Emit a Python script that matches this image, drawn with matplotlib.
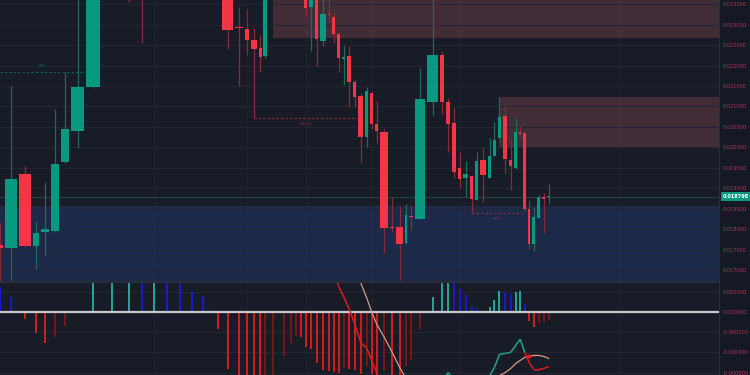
import numpy as np
import matplotlib.pyplot as plt
from matplotlib.patches import Rectangle
from matplotlib.collections import LineCollection
from matplotlib.lines import Line2D
from matplotlib.ticker import FormatStrFormatter

# candles (equivolume: width of a candle = its volume)
volume = [7.5, 14, 14, 8, 10, 10, 10, 15, 16, 21,
          13, 13, 11, 16, 9, 15, 8, 7, 7, 13,
          10, 6, 7.5, 4.8, 5.7, 10, 11, 4, 5, 5,
          5, 6, 5, 8, 4, 5, 5, 5, 6, 5,
          7, 5, 5, 5, 10, 6, 9, 4, 6, 12,
          13, 6, 6, 6, 5, 7, 5, 5, 8, 5,
          4.5, 5.5, 6, 5, 5, 4, 5, 4, 5, 5,
          5, 5]
open_ = [0.017615, 0.017541, 0.019351, 0.017590, 0.017933, 0.017957, 0.019644, 0.020402, 0.021478, 0.02470,
         0.02560, 0.02470, 0.02410, 0.02520, 0.02460, 0.02430, 0.02480, 0.02420, 0.02400, 0.02385,
         0.022933, 0.022896, 0.022627, 0.022431, 0.022236, 0.02375, 0.02430, 0.02390, 0.02410, 0.02385,
         0.02372, 0.023434, 0.02370, 0.022603, 0.023250, 0.023189, 0.022774, 0.022162, 0.022236, 0.021600,
         0.021258, 0.020255, 0.021331, 0.020573, 0.020378, 0.018043, 0.018055, 0.017664, 0.018311, 0.018250,
         0.021111, 0.022260, 0.021111, 0.020598, 0.019497, 0.019253, 0.019302, 0.018715, 0.019693, 0.019253,
         0.019791, 0.020231, 0.020769, 0.019693, 0.019497, 0.020353, 0.020353, 0.018495, 0.017639, 0.018274,
         0.018764, 0.018776]
close = [0.017541, 0.019228, 0.017590, 0.017908, 0.018006, 0.019595, 0.020451, 0.021478, 0.02470, 0.02560,
         0.02470, 0.02410, 0.02520, 0.02460, 0.02430, 0.02480, 0.02420, 0.02400, 0.02385, 0.022872,
         0.022908, 0.022627, 0.022407, 0.022211, 0.02375, 0.02430, 0.02390, 0.02410, 0.02385, 0.02372,
         0.023409, 0.02370, 0.022651, 0.023263, 0.023226, 0.022774, 0.022187, 0.022211, 0.021600, 0.021233,
         0.020255, 0.021380, 0.020573, 0.020402, 0.018030, 0.018018, 0.017639, 0.018348, 0.018287, 0.021184,
         0.022260, 0.021111, 0.020573, 0.019400, 0.019228, 0.019351, 0.018740, 0.019669, 0.019326, 0.019791,
         0.020182, 0.020744, 0.019717, 0.019546, 0.020378, 0.020329, 0.018495, 0.017639, 0.018299, 0.018788,
         0.018740, 0.018798]
high = [0.018153, 0.021502, 0.019546, 0.018201, 0.019155, 0.020940, 0.021845, 0.02400, 0.02510, 0.02590,
        0.02610, 0.02490, 0.02540, 0.02580, 0.02480, 0.02510, 0.02500, 0.02430, 0.02420, 0.02400,
        0.023434, 0.023385, 0.022920, 0.022749, 0.02390, 0.02450, 0.02460, 0.02420, 0.02420, 0.02395,
        0.02385, 0.02380, 0.02380, 0.02366, 0.02370, 0.023312, 0.022800, 0.022505, 0.022480, 0.021649,
        0.021331, 0.021478, 0.021350, 0.021135, 0.020451, 0.018788, 0.018568, 0.018617, 0.018593, 0.021942,
        0.02400, 0.022358, 0.021209, 0.020965, 0.019889, 0.019669, 0.019310, 0.019889, 0.020011, 0.020231,
        0.020622, 0.021233, 0.021013, 0.020231, 0.020720, 0.020524, 0.020360, 0.018715, 0.018544, 0.018840,
        0.018886, 0.019106]
low = [0.01670, 0.01670, 0.017566, 0.017028, 0.017346, 0.017933, 0.019620, 0.019986, 0.021450, 0.02460,
       0.02356, 0.022554, 0.02380, 0.02440, 0.02400, 0.02390, 0.02380, 0.02370, 0.02365, 0.022407,
       0.021502, 0.022260, 0.020720, 0.021845, 0.022187, 0.02365, 0.02370, 0.02375, 0.02370, 0.02365,
       0.023189, 0.022358, 0.021991, 0.022480, 0.023050, 0.022554, 0.021845, 0.021527, 0.020989, 0.020989,
       0.019620, 0.020011, 0.020450, 0.020109, 0.017419, 0.017933, 0.016759, 0.017639, 0.017982, 0.018240,
       0.020793, 0.020818, 0.019889, 0.019253, 0.019008, 0.018788, 0.018397, 0.018710, 0.018666, 0.019250,
       0.019780, 0.020220, 0.019375, 0.018960, 0.019480, 0.020250, 0.018450, 0.017517, 0.017468, 0.018260,
       0.017908, 0.018617]

# MACD pane
hist = [0.00025, 0.00015, -0.00007, -0.00021, -0.00031, -0.00025, -0.00014, 0.0, 0.00045, 0.0006,
        0.0007, 0.00065, 0.0007, 0.0006, 0.0004, 0.00021, 0.00016, 0.00002, -0.00017, -0.00056,
        -0.0007, -0.0008, -0.00085, -0.0009, -0.00085, -0.00075, -0.00044, -0.00031, -0.00024, -0.00025,
        -0.00035, -0.00037, -0.00051, -0.00057, -0.00058, -0.00059, -0.0006, -0.00055, -0.00056, -0.00057,
        -0.00061, -0.00053, -0.00061, -0.0007, -0.00058, -0.00063, -0.0007, -0.00053, -0.00048, -0.00017,
        0.00015, 0.00029, 0.00033, 0.00031, 0.00023, 0.00017, 0.00006, 0.00004, 0.00001, 0.00005,
        0.00012, 0.00021, 0.0002, 0.00018, 0.0002, 0.00021, 0.00008, -0.00009, -0.00015, -0.00011,
        -0.0001, -0.00008]
macd = [0.00125, 0.00113, 0.0009, 0.00074, 0.00061, 0.00063, 0.00072, 0.00085, 0.00133, 0.00155,
        0.00175, 0.0018, 0.00195, 0.00195, 0.00182, 0.00167, 0.00164, 0.0015, 0.00133, 0.00094,
        0.0008, 0.00068, 0.0006, 0.00052, 0.00053, 0.00058, 0.00083, 0.0009, 0.00091, 0.00084,
        0.00075, 0.0007, 0.00058, 0.0005, 0.00046, 0.0004, 0.00025, 0.00015, 0.00003, -0.00012,
        -0.0003, -0.00036, -0.00048, -0.0006, -0.0008, -0.0009, -0.001, -0.001, -0.00098, -0.0008,
        -0.0007, -0.00068, -0.0006, -0.00068, -0.00072, -0.00075, -0.00078, -0.00075, -0.0007, -0.00063,
        -0.00055, -0.00042, -0.00041, -0.0004, -0.00033, -0.00027, -0.0004, -0.0005, -0.00057, -0.00057,
        -0.00056, -0.00054]
signal = [0.0010, 0.00098, 0.00097, 0.00095, 0.00092, 0.00088, 0.00086, 0.00085, 0.00088, 0.00095,
          0.00105, 0.00115, 0.00125, 0.00135, 0.00142, 0.00146, 0.00148, 0.0015, 0.0015, 0.0015,
          0.0015, 0.00148, 0.00145, 0.00142, 0.00138, 0.00134, 0.0013, 0.00126, 0.00122, 0.00118,
          0.00114, 0.00109, 0.00104, 0.00099, 0.00094, 0.00088, 0.0008, 0.0007, 0.00058, 0.00045,
          0.00029, 0.00014, 0.0, -0.00012, -0.00025, -0.0004, -0.00055, -0.00066, -0.00072, -0.00074,
          -0.00075, -0.00074, -0.00073, -0.00072, -0.00072, -0.00072, -0.00072, -0.00071, -0.0007, -0.00068,
          -0.00066, -0.00063, -0.0006, -0.00056, -0.00051, -0.00048, -0.00045, -0.00044, -0.00043, -0.00043,
          -0.00044, -0.00046]

# order blocks (start candle, low, high)
zone_start = [25, 61, 0]
zone_low = [0.02270, 0.020011, 0.0165]
zone_high = [0.0245, 0.021233, 0.018568]
zone_kind = ['supply', 'supply', 'demand']

# structure lines
level_start = [0, 22, 56]
level_end = [8, 40, 66]
level_price = [0.021845, 0.020720, 0.018397]
level_text = ['BOS', 'CHoCH', 'BOS']
level_bull = [True, False, False]

price_ticks = np.arange(0.0170, 0.02351, 0.0005)
macd_ticks = [0.0002, 0.0, -0.0002, -0.0004, -0.0006]

o = np.array(open_); c = np.array(close)
hi = np.array(high); lo = np.array(low)
vol = np.array(volume)
lefts = np.concatenate([[0], np.cumsum(vol)[:-1]])
mids = lefts + vol / 2
gap = 1.6
up = c >= o

BG = '#181c27'
GREEN = '#089981'
RED = '#f23645'

fig = plt.figure(figsize=(7.5, 3.75), dpi=100, facecolor='#151924')
ax = fig.add_axes([0, 94 / 375, 719 / 750, 281 / 375])
ax2 = fig.add_axes([0, 0, 719 / 750, 92 / 375])
x0 = 3.3
vgrid = list(mids[[12, 21, 30, 42, 54]]) + [x0 + 619]
for a in (ax, ax2):
    a.set_facecolor(BG)
    a.set_xlim(x0, x0 + 719)
    a.set_xticks([])
    for s in ('top', 'left', 'bottom'):
        a.spines[s].set_visible(False)
    a.spines['right'].set_color('#2a2e39')
    a.spines['right'].set_linewidth(0.8)
    a.yaxis.tick_right()
    a.tick_params(axis='y', length=0, pad=2.5, labelsize=3.6, labelcolor='#b8345c')
    a.yaxis.set_major_formatter(FormatStrFormatter('%.6f'))
    a.grid(axis='y', color='#232735', lw=0.7, zorder=0)
    for xv in vgrid:
        a.axvline(xv, color='#1f2330', lw=0.7, zorder=0)

ax.set_ylim(0.016731, 0.023605)
ax.set_yticks(price_ticks)
ax2.set_ylim(-0.000624, 0.000287)
ax2.set_yticks(macd_ticks)

# zones
for s, zl, zh, k in zip(zone_start, zone_low, zone_high, zone_kind):
    fc = '#904d55' if k == 'supply' else '#26448b'
    ec = '#7a4550' if k == 'supply' else '#2a3d6e'
    ax.add_patch(Rectangle((mids[s], zl), x0 + 719 - mids[s], zh - zl,
                           facecolor=fc, alpha=0.35, edgecolor=ec, lw=0.6, zorder=1))

# last price line
ax.axhline(c[-1], color='#1b4b43', lw=0.7, zorder=1.5)

# candles
ax.vlines(mids, lo, hi, colors=np.where(up, '#1e6a5a', '#8a2a36'), lw=0.9, zorder=2)
ax.bar(lefts + gap / 2, np.maximum(np.abs(c - o), 3.5e-5), bottom=np.minimum(o, c),
       width=vol - gap, align='edge', color=np.where(up, GREEN, RED), lw=0, zorder=3)

# structure lines
for s, e, p, t, b in zip(level_start, level_end, level_price, level_text, level_bull):
    col = '#0e6b58' if b else '#9a2a3a'
    xa = mids[s] if s > 0 else x0
    ax.plot([xa, lefts[e]], [p, p], color=col, lw=0.8, ls=(0, (2, 2)), zorder=2.5)
    ax.annotate(t, xy=((xa + lefts[e]) / 2, p), xytext=(0, 3 if b else -3),
                textcoords='offset points', ha='center', va='bottom' if b else 'top',
                fontsize=2.5, color=col)

ax.annotate(f'{c[-1]:.6f}', xy=(1.0, c[-1]), xycoords=('axes fraction', 'data'),
            xytext=(2.5, 0), textcoords='offset points', ha='left', va='center',
            fontsize=3.6, color='white', fontweight='bold',
            bbox=dict(boxstyle='square,pad=0.35', fc=GREEN, ec='none'))

# histogram
h = np.array(hist)
prev = np.concatenate([[h[0]], h[:-1]])
hcol = np.where(h >= 0, np.where(h > prev, '#26a69a', '#1a1ad0'),
                np.where(h < prev, '#d41c1c', '#7a141c'))
ax2.vlines(mids, 0, h, colors=hcol, lw=1.4, zorder=2)
ax2.axhline(0, color='#c8cad0', lw=1.6, zorder=4)

m = np.array(macd); sg = np.array(signal)
ax2.plot(mids, sg, color='#d39b86', lw=0.9, zorder=5)
segs = [[(mids[i], m[i]), (mids[i + 1], m[i + 1])] for i in range(len(m) - 1)]
lc = LineCollection(segs, colors=np.where(h[1:] >= 0, '#1fa58b', '#e01b1b'), lw=1.1, zorder=6)
ax2.add_collection(lc)
cross_dn = [i for i in range(1, len(h)) if h[i - 1] >= 0 and h[i] < 0]
ax2.scatter(mids[cross_dn], sg[cross_dn], s=9, color='#e01b1b', zorder=7, lw=0)

fig.add_artist(Line2D([0, 719 / 750], [93 / 375, 93 / 375], color='#2a2e39', lw=1.5))

fig.savefig('out.png', dpi=100, facecolor=fig.get_facecolor())
